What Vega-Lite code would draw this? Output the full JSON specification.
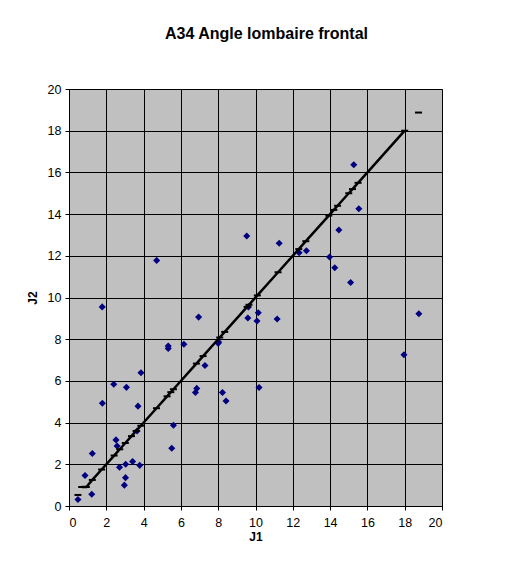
{
  "$schema": "https://vega.github.io/schema/vega-lite/v6.json",
  "autosize": "none",
  "width": 373,
  "height": 417,
  "padding": {"left": 69, "top": 89, "right": 71, "bottom": 61},
  "background": "white",
  "title": {
    "text": "A34 Angle lombaire frontal",
    "font": "Liberation Sans",
    "fontSize": 16,
    "fontWeight": "bold",
    "color": "black",
    "anchor": "middle",
    "frame": "group",
    "dx": 11,
    "offset": 41
  },
  "datasets": {
    "scatter": [
      {"J1": 0.48, "J2": 0.31}, {"J1": 1.22, "J2": 0.56}, {"J1": 0.86, "J2": 1.46},
      {"J1": 1.25, "J2": 2.52}, {"J1": 2.97, "J2": 1.0}, {"J1": 3.03, "J2": 1.36},
      {"J1": 2.71, "J2": 1.86}, {"J1": 3.04, "J2": 2.0}, {"J1": 3.41, "J2": 2.13},
      {"J1": 3.79, "J2": 1.95}, {"J1": 2.52, "J2": 3.17}, {"J1": 2.58, "J2": 2.88},
      {"J1": 3.65, "J2": 3.6}, {"J1": 3.7, "J2": 4.79}, {"J1": 1.79, "J2": 4.93},
      {"J1": 2.4, "J2": 5.84}, {"J1": 3.08, "J2": 5.69}, {"J1": 3.86, "J2": 6.39},
      {"J1": 1.78, "J2": 9.55}, {"J1": 5.51, "J2": 2.77}, {"J1": 5.6, "J2": 3.87},
      {"J1": 5.32, "J2": 7.67}, {"J1": 5.32, "J2": 7.55}, {"J1": 6.16, "J2": 7.76},
      {"J1": 6.95, "J2": 9.06}, {"J1": 6.78, "J2": 5.44}, {"J1": 6.85, "J2": 5.64},
      {"J1": 7.29, "J2": 6.74}, {"J1": 8.02, "J2": 7.86}, {"J1": 8.0, "J2": 7.8},
      {"J1": 8.23, "J2": 5.44}, {"J1": 8.42, "J2": 5.04}, {"J1": 4.7, "J2": 11.78},
      {"J1": 9.53, "J2": 12.95}, {"J1": 9.62, "J2": 9.55}, {"J1": 9.59, "J2": 9.02},
      {"J1": 10.15, "J2": 9.27}, {"J1": 10.08, "J2": 8.87}, {"J1": 10.19, "J2": 5.68},
      {"J1": 11.16, "J2": 8.97}, {"J1": 11.27, "J2": 12.6}, {"J1": 12.34, "J2": 12.15},
      {"J1": 12.73, "J2": 12.24}, {"J1": 13.97, "J2": 11.94}, {"J1": 14.25, "J2": 11.43},
      {"J1": 15.1, "J2": 10.72}, {"J1": 14.47, "J2": 13.24}, {"J1": 15.54, "J2": 14.26},
      {"J1": 15.27, "J2": 16.37}, {"J1": 17.96, "J2": 7.25}, {"J1": 18.76, "J2": 9.22}
    ],
    "line": [
      {"J1": 0.68, "J2": 0.91}, {"J1": 0.93, "J2": 0.91}, {"J1": 1.25, "J2": 1.25},
      {"J1": 1.75, "J2": 1.75}, {"J1": 2.42, "J2": 2.42}, {"J1": 2.72, "J2": 2.72},
      {"J1": 3.02, "J2": 3.02}, {"J1": 3.35, "J2": 3.35}, {"J1": 3.6, "J2": 3.6},
      {"J1": 3.85, "J2": 3.85}, {"J1": 4.69, "J2": 4.69}, {"J1": 5.26, "J2": 5.26},
      {"J1": 5.46, "J2": 5.46}, {"J1": 5.6, "J2": 5.6}, {"J1": 6.83, "J2": 6.83},
      {"J1": 7.19, "J2": 7.19}, {"J1": 8.08, "J2": 8.08}, {"J1": 8.35, "J2": 8.35},
      {"J1": 9.55, "J2": 9.55}, {"J1": 9.65, "J2": 9.65}, {"J1": 10.1, "J2": 10.1},
      {"J1": 11.21, "J2": 11.21}, {"J1": 12.32, "J2": 12.32}, {"J1": 12.7, "J2": 12.7},
      {"J1": 13.93, "J2": 13.93}, {"J1": 14.2, "J2": 14.2}, {"J1": 14.4, "J2": 14.4},
      {"J1": 15.0, "J2": 15.0}, {"J1": 15.2, "J2": 15.2}, {"J1": 15.5, "J2": 15.5},
      {"J1": 18.0, "J2": 18.0}
    ],
    "ends": [
      {"J1": 0.48, "J2": 0.53}, {"J1": 18.74, "J2": 18.87}
    ]
  },
  "config": {
    "view": {"fill": "#C0C0C0", "stroke": "#808080", "strokeWidth": 1},
    "axis": {
      "labelFont": "Liberation Sans",
      "labelFontSize": 12.5,
      "labelColor": "black",
      "labelOverlap": false,
      "titleFont": "Liberation Sans",
      "titleFontSize": 12,
      "titleFontWeight": "bold",
      "titleColor": "black",
      "domainColor": "black",
      "tickColor": "black",
      "tickSize": 4,
      "gridColor": "black",
      "gridOpacity": 1,
      "gridWidth": 1
    }
  },
  "layer": [
    {
      "data": {"name": "scatter"},
      "mark": {"type": "point", "shape": "diamond", "filled": true, "color": "#000080", "size": 50, "opacity": 1},
      "encoding": {
        "x": {"field": "J1", "type": "quantitative", "scale": {"domain": [0, 20], "nice": false, "zero": false},
              "axis": {"values": [0,2,4,6,8,10,12,14,16,18,20], "tickCount": 30, "format": "d", "labelOverlap": false, "title": "J1", "titlePadding": 3, "labelPadding": 6}},
        "y": {"field": "J2", "type": "quantitative", "scale": {"domain": [0, 20], "nice": false, "zero": false},
              "axis": {"values": [0,2,4,6,8,10,12,14,16,18,20], "tickCount": 30, "format": "d", "title": "J2", "titlePadding": 8, "labelPadding": 4}}
      }
    },
    {
      "data": {"name": "line"},
      "mark": {"type": "line", "color": "black", "strokeWidth": 2.5},
      "encoding": {
        "x": {"field": "J1", "type": "quantitative"},
        "y": {"field": "J2", "type": "quantitative"}
      }
    },
    {
      "data": {"name": "line"},
      "mark": {"type": "point", "shape": "M -1 0 L 1 0", "filled": false, "color": "black", "strokeWidth": 2, "size": 49, "opacity": 1},
      "encoding": {
        "x": {"field": "J1", "type": "quantitative"},
        "y": {"field": "J2", "type": "quantitative"}
      }
    },
    {
      "data": {"name": "ends"},
      "mark": {"type": "point", "shape": "M -1 0 L 1 0", "filled": false, "color": "black", "strokeWidth": 2, "size": 49, "opacity": 1},
      "encoding": {
        "x": {"field": "J1", "type": "quantitative"},
        "y": {"field": "J2", "type": "quantitative"}
      }
    }
  ]
}
